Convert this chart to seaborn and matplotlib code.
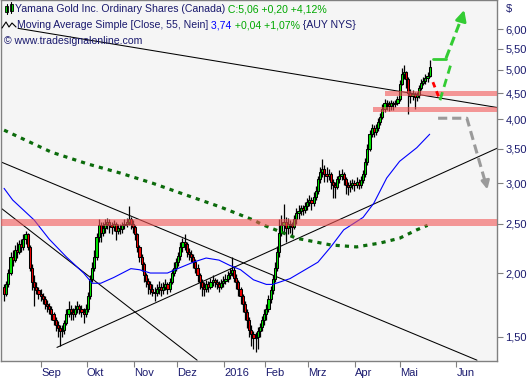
import numpy as np
import pandas as pd
import matplotlib
matplotlib.use("Agg")
import matplotlib.pyplot as plt
import seaborn as sns
from matplotlib.patches import Rectangle
from matplotlib.lines import Line2D
from matplotlib.ticker import FixedLocator, NullLocator

# daily bars of AUY (Aug 2015 - May 2016), bar index 0 = first visible bar
first_open = 1.88
closes = [1.82, 1.90, 2.00, 2.15, 2.12, 2.22, 2.20, 2.28, 2.25, 2.33,
          2.38, 2.25, 2.05, 1.92, 1.88, 1.85, 1.82, 1.80, 1.78, 1.74,
          1.72, 1.70, 1.66, 1.62, 1.58, 1.56, 1.54, 1.55, 1.60, 1.66,
          1.70, 1.68, 1.66, 1.70, 1.72, 1.70, 1.68, 1.66, 1.70, 1.80,
          1.95, 2.05, 2.15, 2.35, 2.48, 2.40, 2.45, 2.50, 2.52, 2.48,
          2.46, 2.50, 2.42, 2.45, 2.44, 2.48, 2.50, 2.52, 2.55, 2.50,
          2.46, 2.38, 2.25, 2.15, 2.08, 1.98, 1.93, 1.90, 1.86, 1.84,
          1.83, 1.86, 1.88, 1.85, 1.88, 1.90, 1.86, 1.92, 2.00, 2.05,
          2.10, 2.16, 2.25, 2.30, 2.28, 2.20, 2.18, 2.15, 2.10, 2.05,
          1.98, 1.92, 1.88, 1.86, 1.90, 1.88, 1.92, 1.94, 1.92, 1.90,
          1.88, 1.91, 1.93, 1.95, 1.98, 2.00, 2.03, 1.96, 1.92, 1.86,
          1.80, 1.74, 1.68, 1.62, 1.55, 1.52, 1.49, 1.50, 1.54, 1.57,
          1.62, 1.66, 1.70, 1.78, 1.85, 1.95, 2.05, 2.20, 2.40, 2.48,
          2.52, 2.45, 2.50, 2.48, 2.46, 2.55, 2.62, 2.65, 2.68, 2.66,
          2.70, 2.75, 2.78, 2.74, 2.82, 2.90, 3.05, 3.15, 3.20, 3.12,
          3.10, 3.12, 3.02, 2.98, 2.95, 3.05, 3.10, 3.12, 3.05, 2.98,
          2.95, 2.98, 3.00, 2.98, 3.02, 2.98, 3.04, 3.12, 3.30, 3.50,
          3.75, 3.85, 3.78, 3.85, 3.95, 4.05, 4.20, 4.30, 4.28, 4.25,
          4.30, 4.28, 4.30, 4.38, 4.70, 4.90, 4.95, 4.80, 4.50, 4.45,
          4.48, 4.42, 4.46, 4.60, 4.72, 4.76, 4.82, 4.86, 5.06]
highs = [1.90, 1.93, 2.04, 2.20, 2.22, 2.27, 2.30, 2.32, 2.33, 2.38,
         2.42, 2.40, 2.27, 2.08, 1.98, 1.92, 1.88, 1.86, 1.83, 1.80,
         1.77, 1.75, 1.72, 1.68, 1.64, 1.61, 1.58, 1.58, 1.62, 1.70,
         1.76, 1.73, 1.71, 1.73, 1.76, 1.74, 1.73, 1.71, 1.74, 1.84,
         1.98, 2.10, 2.22, 2.40, 2.55, 2.52, 2.52, 2.55, 2.56, 2.55,
         2.52, 2.54, 2.52, 2.50, 2.50, 2.52, 2.55, 2.56, 2.71, 2.58,
         2.54, 2.48, 2.40, 2.27, 2.18, 2.10, 2.00, 1.96, 1.93, 1.90,
         1.88, 1.90, 1.93, 1.91, 1.92, 1.95, 1.92, 1.96, 2.04, 2.10,
         2.14, 2.20, 2.30, 2.34, 2.38, 2.30, 2.24, 2.22, 2.18, 2.13,
         2.08, 2.00, 1.95, 1.92, 1.94, 1.93, 1.96, 1.98, 1.96, 1.95,
         1.93, 1.95, 1.97, 1.99, 2.02, 2.05, 2.15, 2.06, 1.99, 1.94,
         1.88, 1.82, 1.76, 1.70, 1.64, 1.58, 1.54, 1.53, 1.57, 1.60,
         1.65, 1.70, 1.74, 1.81, 1.89, 1.98, 2.10, 2.26, 2.55, 2.60,
         2.73, 2.58, 2.56, 2.54, 2.52, 2.60, 2.68, 2.72, 2.72, 2.72,
         2.76, 2.80, 2.84, 2.82, 2.88, 2.96, 3.10, 3.22, 3.35, 3.25,
         3.22, 3.20, 3.15, 3.06, 3.02, 3.10, 3.18, 3.20, 3.16, 3.08,
         3.02, 3.04, 3.06, 3.04, 3.08, 3.05, 3.10, 3.18, 3.36, 3.58,
         3.82, 3.92, 3.90, 3.92, 4.02, 4.12, 4.28, 4.38, 4.36, 4.34,
         4.36, 4.34, 4.36, 4.45, 4.78, 5.05, 5.10, 4.98, 4.84, 4.58,
         4.56, 4.52, 4.52, 4.66, 4.80, 4.84, 4.90, 4.95, 5.22]
lows = [1.76, 1.80, 1.88, 1.98, 2.06, 2.10, 2.14, 2.18, 2.20, 2.22,
        2.28, 2.22, 2.02, 1.85, 1.72, 1.82, 1.78, 1.76, 1.74, 1.70,
        1.68, 1.66, 1.62, 1.58, 1.54, 1.50, 1.44, 1.50, 1.52, 1.58,
        1.64, 1.62, 1.62, 1.64, 1.67, 1.66, 1.64, 1.60, 1.64, 1.68,
        1.78, 1.92, 2.02, 2.12, 2.30, 2.30, 2.36, 2.40, 2.44, 2.40,
        2.38, 2.42, 2.32, 2.38, 2.38, 2.40, 2.44, 2.46, 2.48, 2.44,
        2.40, 2.32, 2.20, 2.10, 2.02, 1.92, 1.88, 1.82, 1.82, 1.80,
        1.76, 1.80, 1.82, 1.80, 1.82, 1.85, 1.82, 1.84, 1.90, 1.97,
        2.02, 2.06, 2.12, 2.20, 2.22, 2.15, 2.12, 2.10, 2.05, 2.00,
        1.92, 1.86, 1.80, 1.80, 1.84, 1.84, 1.86, 1.89, 1.88, 1.86,
        1.84, 1.86, 1.88, 1.90, 1.92, 1.95, 1.97, 1.92, 1.86, 1.80,
        1.74, 1.68, 1.62, 1.56, 1.50, 1.44, 1.42, 1.40, 1.42, 1.50,
        1.54, 1.58, 1.62, 1.68, 1.75, 1.82, 1.92, 2.02, 2.15, 2.36,
        2.40, 2.30, 2.38, 2.40, 2.36, 2.44, 2.50, 2.55, 2.60, 2.60,
        2.62, 2.66, 2.70, 2.66, 2.70, 2.78, 2.86, 3.00, 3.08, 3.02,
        3.02, 3.04, 2.92, 2.80, 2.80, 2.92, 3.00, 3.04, 2.98, 2.86,
        2.84, 2.88, 2.92, 2.90, 2.94, 2.92, 2.94, 3.00, 3.08, 3.26,
        3.46, 3.70, 3.70, 3.72, 3.80, 3.90, 4.00, 4.14, 4.18, 4.16,
        4.18, 4.18, 4.22, 4.26, 4.34, 4.66, 4.80, 4.60, 4.10, 4.30,
        4.36, 4.20, 4.34, 4.40, 4.56, 4.66, 4.70, 4.74, 4.84]

# moving averages (bar index, price)
ma55_idx = [0, 4, 14, 21, 29, 37, 41, 45, 51, 59, 63, 68, 76, 82, 88, 94,
            100, 105, 110, 116, 122, 125, 133, 146, 152, 158, 167, 172, 178, 184, 192, 198]
ma55_val = [2.93, 2.78, 2.54, 2.33, 2.15, 2.00, 1.91, 1.91, 1.96, 2.04, 2.03, 2.00, 2.00, 2.05, 2.10, 2.14,
            2.12, 2.07, 2.03, 1.94, 1.90, 1.90, 1.95, 2.10, 2.25, 2.43, 2.57, 2.74, 3.07, 3.31, 3.52, 3.74]
ma200_idx = [0, 22, 39, 54, 69, 85, 100, 116, 120, 136, 152, 164, 175, 184, 192, 197]
ma200_val = [3.81, 3.45, 3.27, 3.14, 3.00, 2.84, 2.70, 2.54, 2.49, 2.34, 2.27, 2.25, 2.29, 2.34, 2.43, 2.48]

# trend lines: (x0, y0, x1, y1)
trend_lines = [(6.5, 6.03, 229.3, 4.22),
               (-1.4, 3.30, 220.0, 1.35),
               (-1.4, 2.68, 89.8, 1.35),
               (24.6, 1.43, 229.3, 3.51)]
# support / resistance zones: (x start, low, high)
zones = [(-1.4, 2.476, 2.55), (177.2, 4.44, 4.55), (171.6, 4.13, 4.23)]

month_labels = ['Sep', 'Okt', 'Nov', 'Dez', '2016', 'Feb', 'Mrz', 'Apr', 'Mai', 'Jun']
month_start = [18, 39, 61, 81, 103, 122, 142, 164, 185, 211]
price_ticks = [1.5, 2.0, 2.5, 3.0, 3.5, 4.0, 4.5, 5.0, 5.5, 6.0]

df = pd.DataFrame({'close': closes, 'high': highs, 'low': lows})
df['open'] = [first_open] + closes[:-1]
df['bar'] = np.arange(len(df))
df['up'] = df['close'] >= df['open']

sns.set_style('white')
plt.rcParams['font.family'] = ['Liberation Sans', 'DejaVu Sans']
navy = '#1a1a6e'

fig = plt.figure(figsize=(5.3, 3.8), dpi=100)
ax = fig.add_axes([0.002, 0.05, 0.9357, 0.949])
ax.set_facecolor('#f5f5f5')
ax.set_yscale('log')

# candles
ax.vlines(df['bar'], df['low'], df['high'], color='black', lw=0.9, zorder=3)
for up, col in [(True, '#00e600'), (False, '#ee0000')]:
    d = df[df['up'] == up]
    bottom = d[['open', 'close']].min(axis=1)
    height = (d['close'] - d['open']).abs().clip(lower=0.006)
    ax.bar(d['bar'], height, bottom=bottom, width=1.0, color=col,
           edgecolor='black', linewidth=0.75, zorder=4)

# moving averages
sns.lineplot(x=ma55_idx, y=ma55_val, ax=ax, color='#0000ff', lw=0.8, zorder=5)
sns.lineplot(x=ma200_idx, y=ma200_val, ax=ax, color='#0b6b0b', lw=2.3,
             linestyle=(0, (1.3, 1.6)), zorder=5)

for x0, y0, x1, y1 in trend_lines:
    ax.plot([x0, x1], [y0, y1], color='black', lw=0.75, zorder=2)

for xs, lo, hi in zones:
    ax.fill_between([xs, 229.3], lo, hi, color='#f35757', alpha=0.6, lw=0, zorder=6)

# projections
ax.plot([199.5, 202.8], [4.73, 4.36], color='#ff0000', lw=2, ls=(0, (2, 1.5)), zorder=7)
ax.plot([202.8, 208.4], [4.36, 5.22], color='#33cc33', lw=2, ls=(0, (3, 2)), zorder=7)
ax.plot([199.5, 205.6], [5.25, 5.25], color='#33cc33', lw=2, zorder=7)
ax.plot([205.6, 213.0], [5.27, 6.35], color='#33cc33', lw=2.2, ls=(0, (3, 1.5)), zorder=7)
ax.annotate('', xy=(214.4, 6.63), xytext=(212.3, 6.18),
            arrowprops=dict(arrowstyle='-|>', color='#33cc33', lw=2, mutation_scale=16), zorder=7)
ax.plot([201.9, 215.3, 224.0], [4.02, 4.02, 3.00], color='#9a9a9a', lw=2.2, ls=(0, (3, 1.6)), zorder=7)
ax.annotate('', xy=(225.1, 2.88), xytext=(223.8, 3.05),
            arrowprops=dict(arrowstyle='-|>', color='#9a9a9a', lw=2, mutation_scale=12), zorder=7)

ax.set_xlim(-1.4, 229.3)
ax.set_ylim(1.345, 6.84)

# axes styling
for s in ax.spines.values():
    s.set_color('#808080')
    s.set_linewidth(1)
ax.yaxis.tick_right()
ax.yaxis.set_major_locator(FixedLocator(price_ticks))
ax.yaxis.set_minor_locator(NullLocator())
ax.set_yticklabels([f'{v:.2f}'.replace('.', ',') for v in price_ticks])
ax.set_xticks([m - 0.6 for m in month_start])
ax.set_xticklabels(month_labels)
for lab in ax.get_xticklabels():
    lab.set_horizontalalignment('left')
ax.tick_params(axis='both', length=4, width=0.8, color='#808080', labelsize=8, labelcolor=navy)
ax.tick_params(axis='y', pad=2, right=True, left=False)
ax.tick_params(axis='x', pad=1, bottom=True)
ax.set_xlabel('')
ax.set_ylabel('')
fig.text(506 / 530, 1 - 9 / 380, '$', fontsize=8, color=navy, va='center')

# header text
W, H = 530, 380
renderer = fig.canvas.get_renderer()


def text_row(x_px, base_px, parts):
    x = x_px / W
    for s, col in parts:
        t = fig.text(x, 1 - base_px / H, s, color=col, fontsize=7.6, va='baseline')
        bb = t.get_window_extent(renderer=renderer)
        x = bb.x1 / fig.bbox.width


text_row(15, 12.5, [('Yamana Gold Inc. Ordinary Shares (Canada)', navy),
                    (' C:5,06 +0,20 +4,12%', '#00a800')])
text_row(17, 28, [('Moving Average Simple [Close, 55, Nein]', navy), (' 3,74', '#0000ff'),
                  (' +0,04 +1,07%', '#00a800'), (' {AUY NYS}', navy)])
text_row(4, 44.5, [('\u00a9 www.tradesignalonline.com', navy)])

# small legend icons
for (cx, top, bh) in [(6.5, 6, 6), (11, 4, 7)]:
    fig.add_artist(Line2D([cx / W, cx / W], [1 - (top - 2) / H, 1 - (top + bh + 2) / H],
                          color='black', lw=0.8, transform=fig.transFigure))
    fig.add_artist(Rectangle(((cx - 1.5) / W, 1 - (top + bh) / H), 3 / W, bh / H,
                             facecolor='#00e000', edgecolor='black', lw=0.6, transform=fig.transFigure))
zx = [2, 6, 9, 12, 16]
zy = [28, 22, 27, 23, 27]
fig.add_artist(Line2D([v / W for v in zx], [1 - v / H for v in zy], color='black', lw=0.8,
                      transform=fig.transFigure))

fig.savefig('out.png', dpi=100)
